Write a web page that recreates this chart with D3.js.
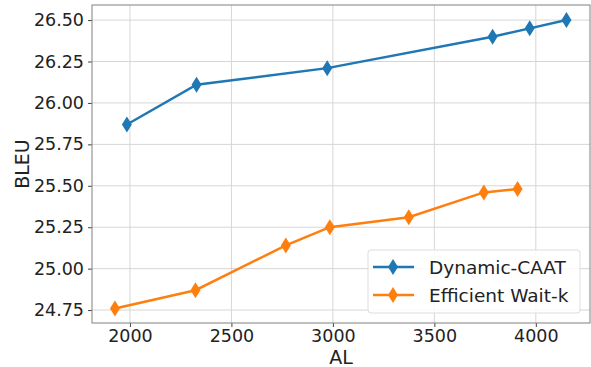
<!DOCTYPE html>
<html>
<head>
<meta charset="utf-8">
<script src="https://cdn.jsdelivr.net/npm/d3@7"></script>
<style>
  body { margin: 0; background: #fff; }
  text { font-family: "DejaVu Sans", sans-serif; fill: #222; }
</style>
</head>
<body>
<div id="chart"></div>
<script>
// values
var caatAL = [1985, 2328, 2972, 3787, 3970, 4151];
var caatBLEU = [25.87, 26.11, 26.21, 26.40, 26.45, 26.50];
var waitkAL = [1926, 2323, 2768, 2985, 3374, 3744, 3910];
var waitkBLEU = [24.76, 24.87, 25.14, 25.25, 25.31, 25.46, 25.48];
var xTicks = [2000, 2500, 3000, 3500, 4000];
var yTicks = [24.75, 25.00, 25.25, 25.50, 25.75, 26.00, 26.25, 26.50];
var seriesNames = ["Dynamic-CAAT", "Efficient Wait-k"];
var colors = ["#1f77b4", "#ff7f0e"];

var width = 591, height = 367;
var mLeft = 92, mRight = 590, mTop = 5, mBottom = 323;

var svg = d3.select("#chart").append("svg")
  .attr("width", width).attr("height", height);

var x = d3.scaleLinear().domain([1813, 4267]).range([mLeft, mRight]);
var y = d3.scaleLinear().domain([24.672, 26.591]).range([mBottom, mTop]);

// grid
svg.append("g").selectAll("line").data(xTicks).enter().append("line")
  .attr("x1", function(d){ return x(d); }).attr("x2", function(d){ return x(d); })
  .attr("y1", mTop).attr("y2", mBottom)
  .attr("stroke", "#d6d6d6").attr("stroke-width", 1);
svg.append("g").selectAll("line").data(yTicks).enter().append("line")
  .attr("y1", function(d){ return y(d); }).attr("y2", function(d){ return y(d); })
  .attr("x1", mLeft).attr("x2", mRight)
  .attr("stroke", "#d6d6d6").attr("stroke-width", 1);

// axes
var xAxis = svg.append("g").attr("transform", "translate(0," + mBottom + ")")
  .call(d3.axisBottom(x).tickValues(xTicks).tickSize(4).tickPadding(3).tickFormat(d3.format("d")));
var yAxis = svg.append("g").attr("transform", "translate(" + mLeft + ",0)")
  .call(d3.axisLeft(y).tickValues(yTicks).tickSize(4).tickPadding(4).tickFormat(d3.format(".2f")));
[xAxis, yAxis].forEach(function(a){
  a.select(".domain").remove();
  a.selectAll("line").attr("stroke", "#444");
  a.selectAll("text").style("font-size", "17.5px").attr("fill", "#222")
    .style("font-family", "DejaVu Sans, sans-serif");
});

// frame
svg.append("rect").attr("x", mLeft).attr("y", mTop)
  .attr("width", mRight - mLeft).attr("height", mBottom - mTop)
  .attr("fill", "none").attr("stroke", "#808080").attr("stroke-width", 1);

svg.append("text").attr("x", (mLeft + mRight) / 2).attr("y", 364)
  .attr("text-anchor", "middle").style("font-size", "19px").text("AL");
svg.append("text").attr("transform", "translate(29," + ((mTop + mBottom) / 2) + ") rotate(-90)")
  .attr("text-anchor", "middle").style("font-size", "19px").text("BLEU");

var diamond = "M0,-8 L5,0 L0,8 L-5,0 Z";

var series = [
  { name: seriesNames[0], xs: caatAL, ys: caatBLEU, color: colors[0] },
  { name: seriesNames[1], xs: waitkAL, ys: waitkBLEU, color: colors[1] }
];

var line = d3.line().x(function(d){ return x(d[0]); }).y(function(d){ return y(d[1]); });

series.forEach(function(s){
  var pts = s.xs.map(function(v, i){ return [v, s.ys[i]]; });
  svg.append("path").datum(pts).attr("d", line)
    .attr("fill", "none").attr("stroke", s.color).attr("stroke-width", 2.5);
  svg.append("g").selectAll("path").data(pts).enter().append("path")
    .attr("d", diamond)
    .attr("transform", function(d){ return "translate(" + x(d[0]) + "," + y(d[1]) + ")"; })
    .attr("fill", s.color);
});

// legend
var lg = svg.append("g").attr("transform", "translate(368,250)");
lg.append("rect").attr("width", 212).attr("height", 63).attr("rx", 3)
  .attr("fill", "#fff").attr("fill-opacity", 0.85).attr("stroke", "#ddd");
series.forEach(function(s, i){
  var cy = 17 + i * 28;
  lg.append("line").attr("x1", 5).attr("x2", 46).attr("y1", cy).attr("y2", cy)
    .attr("stroke", s.color).attr("stroke-width", 2.5);
  lg.append("path").attr("d", diamond).attr("transform", "translate(25," + cy + ")").attr("fill", s.color);
  lg.append("text").attr("x", 61).attr("y", cy + 6.5).style("font-size", "18.5px").text(s.name);
});
</script>
</body>
</html>
